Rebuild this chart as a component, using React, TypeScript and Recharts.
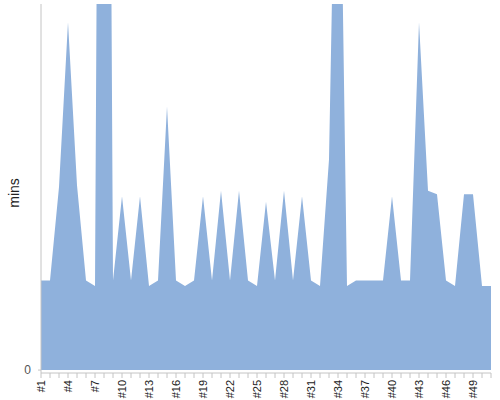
import { Area, AreaChart, XAxis, YAxis } from "recharts";

// one entry per run, in minutes; #8 and #34 run far above the visible range
const runLabels = [
  "#1", "#2", "#3", "#4", "#5", "#6", "#7", "#8", "#9", "#10",
  "#11", "#12", "#13", "#14", "#15", "#16", "#17", "#18", "#19", "#20",
  "#21", "#22", "#23", "#24", "#25", "#26", "#27", "#28", "#29", "#30",
  "#31", "#32", "#33", "#34", "#35", "#36", "#37", "#38", "#39", "#40",
  "#41", "#42", "#43", "#44", "#45", "#46", "#47", "#48", "#49", "#50",
  "#51",
];

const minutes = [
  4.9, 4.9, 10.0, 19.0, 10.1, 4.9, 4.6, 95, 4.9, 9.5,
  4.9, 9.5, 4.6, 4.9, 14.4, 4.9, 4.6, 4.9, 9.5, 4.9,
  9.8, 4.9, 9.8, 4.9, 4.6, 9.2, 4.9, 9.8, 4.9, 9.5,
  4.9, 4.6, 11.5, 38, 4.6, 4.9, 4.9, 4.9, 4.9, 9.5,
  4.9, 4.9, 19.0, 9.8, 9.6, 4.9, 4.6, 9.6, 9.6, 4.6,
  4.6,
];

const yTicks = [0];

const data = runLabels.map((run, i) => ({ run, mins: minutes[i] }));

const font = '"Liberation Sans", Arial, sans-serif';

type TickProps = {
  x?: number;
  y?: number;
  index?: number;
  payload?: { value: string };
};

function RunTick({ x = 0, y = 0, index = 0, payload }: TickProps) {
  if (index % 3 !== 0) return <g />;
  return (
    <g transform={`translate(${x},${y})`}>
      <text
        x={0}
        y={0}
        dy="0.35em"
        textAnchor="end"
        transform="rotate(-90)"
        fontSize={11}
        fontFamily={font}
        fill="#222"
      >
        {payload?.value}
      </text>
    </g>
  );
}

export default function App() {
  return (
    <div style={{ position: "absolute", left: 0, top: 0, background: "#fff" }}>
      <AreaChart width={500} height={400} data={data} margin={{ top: 4, right: 9, bottom: 0, left: 0 }}>
        <XAxis
          dataKey="run"
          interval={0}
          height={27}
          tickSize={5}
          tickMargin={2}
          tick={<RunTick />}
          axisLine={{ stroke: "#c4c4c4" }}
          tickLine={{ stroke: "#c4c4c4" }}
        />
        <YAxis
          width={41}
          domain={[-0.16, 20]}
          allowDataOverflow
          ticks={yTicks}
          tickSize={3}
          tickMargin={7}
          axisLine={{ stroke: "#c4c4c4" }}
          tickLine={{ stroke: "#c4c4c4" }}
          tick={{ fill: "#555", fontSize: 12, fontFamily: font }}
          label={{
            content: () => (
              <text
                x={14}
                y={193}
                transform="rotate(-90 14 193)"
                textAnchor="middle"
                dominantBaseline="central"
                fontSize={14}
                fontFamily={font}
                fill="#222"
              >
                mins
              </text>
            ),
          }}
        />
        <Area
          type="linear"
          dataKey="mins"
          stroke="none"
          fill="#8fb1dc"
          fillOpacity={1}
          isAnimationActive={false}
          dot={false}
          activeDot={false}
        />
      </AreaChart>
    </div>
  );
}
